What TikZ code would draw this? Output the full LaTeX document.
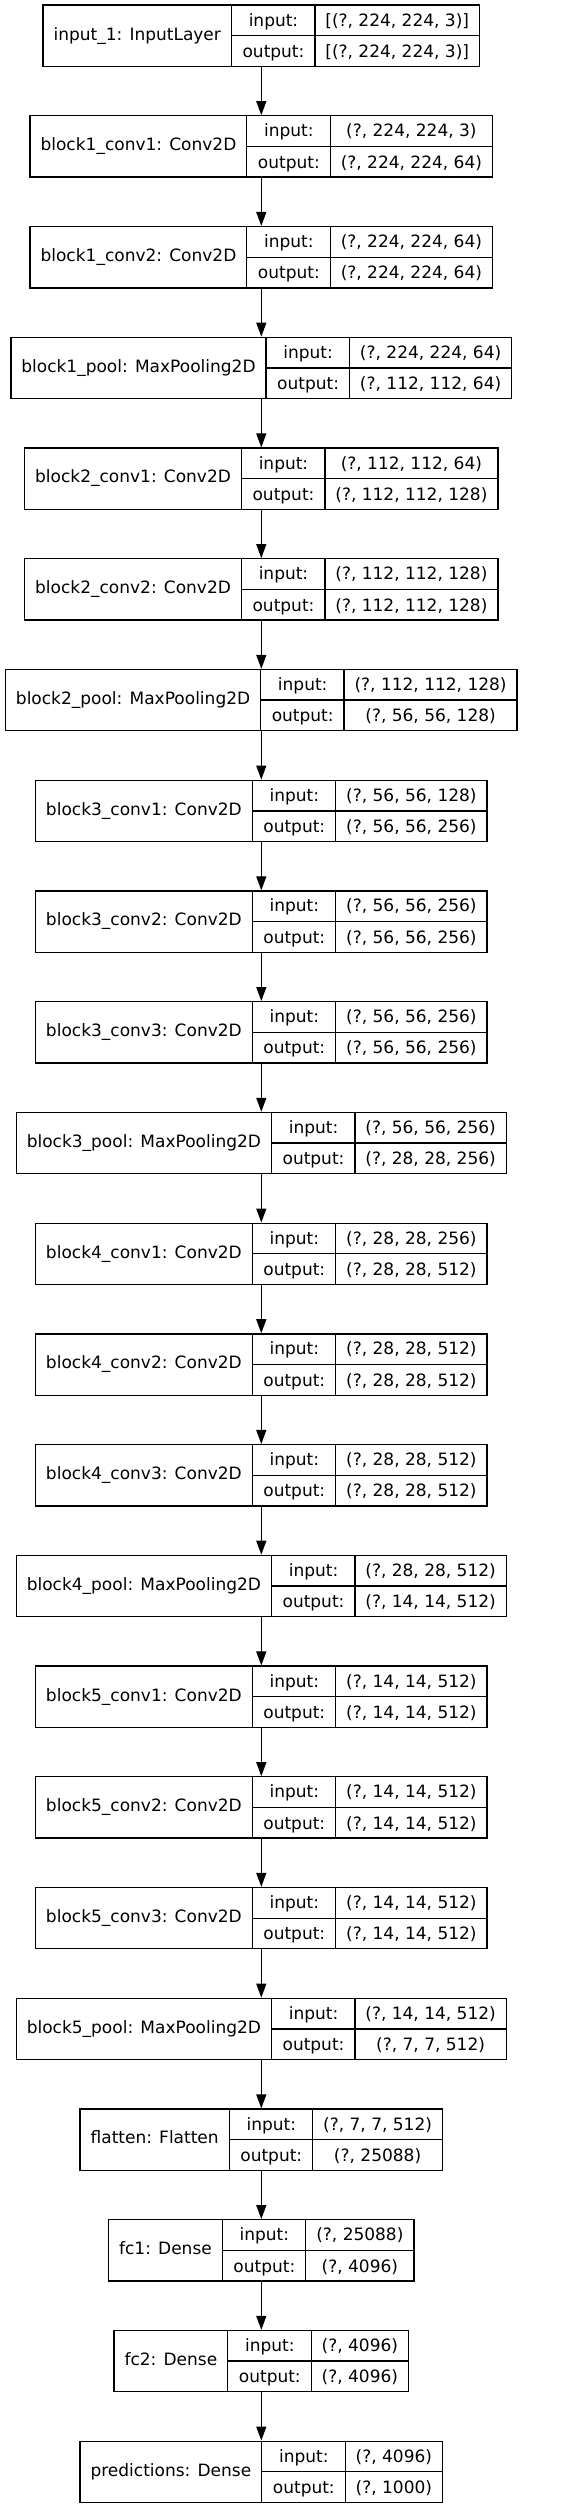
\documentclass[tikz,border=0pt]{standalone}
\usepackage{fontspec}
\setmainfont{DejaVu Sans}
\usetikzlibrary{arrows.meta}
\setlength{\tabcolsep}{10.5pt}
\setlength{\arrayrulewidth}{1.3pt}
\renewcommand{\arraystretch}{1.47}
\newcommand{\layerrec}[3]{\begin{tabular}{c|@{}c@{}}#1 & \begin{tabular}{c|c}input: & #2\\\hline output: & #3\end{tabular}\end{tabular}}
\begin{document}
\begin{tikzpicture}[x=1pt,y=-1pt,
  rec/.style={draw, line width=1.3pt, inner sep=0pt, font=\fontsize{17}{20.4}\selectfont},
  arr/.style={line width=1.3pt, -{Triangle[length=14pt,width=10pt]}}]
\useasboundingbox (0,0) rectangle (573,2508);
\node[rec] (l0) at (261.3,35.75) {\layerrec{input\_1: InputLayer}{[(?, 224, 224, 3)]}{[(?, 224, 224, 3)]}};
\node[rec] (l1) at (261.3,146.48) {\layerrec{block1\_conv1: Conv2D}{(?, 224, 224, 3)}{(?, 224, 224, 64)}};
\node[rec] (l2) at (261.3,257.21) {\layerrec{block1\_conv2: Conv2D}{(?, 224, 224, 64)}{(?, 224, 224, 64)}};
\node[rec] (l3) at (261.3,367.94) {\layerrec{block1\_pool: MaxPooling2D}{(?, 224, 224, 64)}{(?, 112, 112, 64)}};
\node[rec] (l4) at (261.3,478.67) {\layerrec{block2\_conv1: Conv2D}{(?, 112, 112, 64)}{(?, 112, 112, 128)}};
\node[rec] (l5) at (261.3,589.40) {\layerrec{block2\_conv2: Conv2D}{(?, 112, 112, 128)}{(?, 112, 112, 128)}};
\node[rec] (l6) at (261.3,700.13) {\layerrec{block2\_pool: MaxPooling2D}{(?, 112, 112, 128)}{(?, 56, 56, 128)}};
\node[rec] (l7) at (261.3,810.86) {\layerrec{block3\_conv1: Conv2D}{(?, 56, 56, 128)}{(?, 56, 56, 256)}};
\node[rec] (l8) at (261.3,921.59) {\layerrec{block3\_conv2: Conv2D}{(?, 56, 56, 256)}{(?, 56, 56, 256)}};
\node[rec] (l9) at (261.3,1032.32) {\layerrec{block3\_conv3: Conv2D}{(?, 56, 56, 256)}{(?, 56, 56, 256)}};
\node[rec] (l10) at (261.3,1143.05) {\layerrec{block3\_pool: MaxPooling2D}{(?, 56, 56, 256)}{(?, 28, 28, 256)}};
\node[rec] (l11) at (261.3,1253.78) {\layerrec{block4\_conv1: Conv2D}{(?, 28, 28, 256)}{(?, 28, 28, 512)}};
\node[rec] (l12) at (261.3,1364.51) {\layerrec{block4\_conv2: Conv2D}{(?, 28, 28, 512)}{(?, 28, 28, 512)}};
\node[rec] (l13) at (261.3,1475.24) {\layerrec{block4\_conv3: Conv2D}{(?, 28, 28, 512)}{(?, 28, 28, 512)}};
\node[rec] (l14) at (261.3,1585.97) {\layerrec{block4\_pool: MaxPooling2D}{(?, 28, 28, 512)}{(?, 14, 14, 512)}};
\node[rec] (l15) at (261.3,1696.70) {\layerrec{block5\_conv1: Conv2D}{(?, 14, 14, 512)}{(?, 14, 14, 512)}};
\node[rec] (l16) at (261.3,1807.43) {\layerrec{block5\_conv2: Conv2D}{(?, 14, 14, 512)}{(?, 14, 14, 512)}};
\node[rec] (l17) at (261.3,1918.16) {\layerrec{block5\_conv3: Conv2D}{(?, 14, 14, 512)}{(?, 14, 14, 512)}};
\node[rec] (l18) at (261.3,2028.89) {\layerrec{block5\_pool: MaxPooling2D}{(?, 14, 14, 512)}{(?, 7, 7, 512)}};
\node[rec] (l19) at (261.3,2139.62) {\layerrec{flatten: Flatten}{(?, 7, 7, 512)}{(?, 25088)}};
\node[rec] (l20) at (261.3,2250.35) {\layerrec{fc1: Dense}{(?, 25088)}{(?, 4096)}};
\node[rec] (l21) at (261.3,2361.08) {\layerrec{fc2: Dense}{(?, 4096)}{(?, 4096)}};
\node[rec] (l22) at (261.3,2471.81) {\layerrec{predictions: Dense}{(?, 4096)}{(?, 1000)}};
\foreach \a/\b in {0/1,1/2,2/3,3/4,4/5,5/6,6/7,7/8,8/9,9/10,10/11,11/12,12/13,13/14,14/15,15/16,16/17,17/18,18/19,19/20,20/21,21/22}
  \draw[arr] (l\a.south) -- (l\b.north);
\end{tikzpicture}
\end{document}
